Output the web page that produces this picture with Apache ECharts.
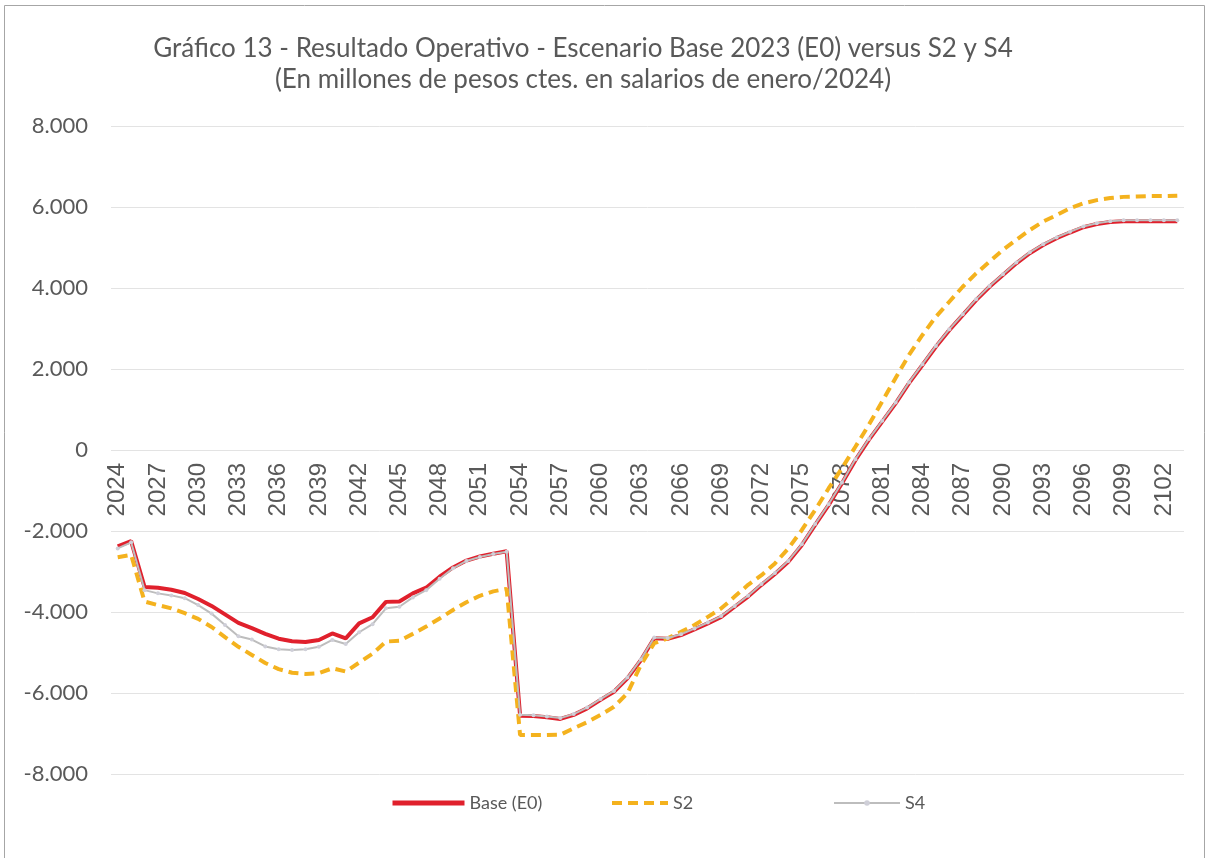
<!DOCTYPE html>
<html>
<head>
<meta charset="utf-8">
<script src="https://cdn.jsdelivr.net/npm/echarts@6/dist/echarts.min.js"></script>
<style>
  html, body { margin: 0; padding: 0; background: #fff; }
  #chart { width: 1210px; height: 858px; }
</style>
</head>
<body>
<div id="chart"></div>
<script>
// años 2024..2103
const years = [];
for (let y = 2024; y <= 2103; y++) years.push(String(y));

const yTicks = [-8000, -6000, -4000, -2000, 0, 2000, 4000, 6000, 8000];

const base = [
  -2380, -2250, -3380, -3400, -3450, -3530, -3680, -3850, -4060, -4270,
  -4400, -4540, -4660, -4720, -4740, -4690, -4530, -4650, -4280, -4130,
  -3750, -3740, -3540, -3400, -3130, -2900, -2730, -2630, -2560, -2500,
  -6560, -6570, -6600, -6640, -6540, -6380, -6170, -5970, -5640, -5190,
  -4650, -4660, -4570, -4430, -4280, -4120, -3870, -3620, -3330, -3060,
  -2760, -2350, -1850, -1360, -820, -250, 250, 700, 1150, 1650,
  2100, 2550, 2960, 3330, 3700, 4030, 4320, 4610, 4860, 5060,
  5230, 5370, 5500, 5580, 5630, 5650, 5650, 5650, 5650, 5650
];

const s2 = [
  -2650, -2590, -3740, -3830, -3910, -4030, -4170, -4370, -4620, -4860,
  -5060, -5260, -5410, -5500, -5530, -5510, -5390, -5470, -5250, -5030,
  -4730, -4710, -4540, -4360, -4160, -3950, -3760, -3600, -3490, -3430,
  -7040, -7040, -7040, -7030, -6870, -6720, -6540, -6340, -6010, -5310,
  -4770, -4650, -4490, -4320, -4120, -3910, -3620, -3330, -3090, -2800,
  -2430, -1980, -1480, -950, -450, 80, 620, 1200, 1780, 2350,
  2840, 3290, 3660, 4030, 4360, 4650, 4940, 5190, 5430, 5640,
  5800, 5970, 6090, 6170, 6220, 6250, 6260, 6270, 6270, 6280
];

const s4 = [
  -2430, -2280, -3460, -3540, -3590, -3660, -3830, -4040, -4320, -4600,
  -4680, -4850, -4920, -4940, -4920, -4860, -4690, -4790, -4500, -4300,
  -3910, -3870, -3640, -3460, -3180, -2920, -2740, -2640, -2570, -2510,
  -6540, -6550, -6580, -6620, -6520, -6360, -6150, -5950, -5620, -5170,
  -4630, -4640, -4550, -4410, -4260, -4100, -3850, -3600, -3310, -3040,
  -2740, -2330, -1830, -1340, -800, -230, 270, 720, 1170, 1670,
  2120, 2570, 2980, 3350, 3720, 4050, 4340, 4630, 4880, 5080,
  5250, 5390, 5520, 5600, 5650, 5670, 5670, 5670, 5670, 5670
];

const txt = '#595959';
const fmt = v => {
  const s = Math.abs(v).toString().replace(/\B(?=(\d{3})+(?!\d))/g, '.');
  return (v < 0 ? '-' : '') + s;
};

const gridTop = 126, gridBottom = 84, chartH = 858;
// desplazar el eje X hasta la línea del cero
const zeroOffset = -((chartH - gridBottom - gridTop) / 2);

const chart = echarts.init(document.getElementById('chart'));
const legendText = { color: txt, fontSize: 18, fontFamily: 'Lato' };
chart.setOption({
  animation: false,
  backgroundColor: '#fff',
  graphic: [{
    type: 'rect',
    shape: { x: 4.5, y: 5.5, width: 1200, height: 860 },
    style: { fill: 'none', stroke: '#a6a6a6', lineWidth: 1 }
  }],
  title: {
    text: 'Gráfico 13 - Resultado Operativo - Escenario Base 2023 (E0) versus S2 y S4\n(En millones de pesos ctes. en salarios de enero/2024)',
    left: 578,
    textAlign: 'center',
    top: 28,
    textStyle: { color: txt, fontSize: 26, fontWeight: 'normal', fontFamily: 'Lato', lineHeight: 31 }
  },
  legend: [
    { data: ['Base (E0)'], left: 385, top: 789, itemWidth: 72, itemHeight: 14, textStyle: legendText,
      itemStyle: { opacity: 0 }, lineStyle: { width: 5 } },
    { data: ['S2'], left: 605, top: 789, itemWidth: 56, itemHeight: 14, textStyle: legendText,
      itemStyle: { opacity: 0 }, lineStyle: { width: 4 } },
    { data: ['S4'], left: 828, top: 789, itemWidth: 66, itemHeight: 7, textStyle: legendText }
  ],
  grid: { left: 111, right: 26, top: gridTop, bottom: gridBottom, containLabel: false },
  xAxis: {
    type: 'category',
    data: years,
    boundaryGap: true,
    position: 'bottom',
    offset: zeroOffset,
    axisLine: { show: false, onZero: false },
    axisTick: { show: false },
    axisLabel: {
      interval: 2,
      rotate: 90,
      margin: 13,
      color: txt,
      fontSize: 24,
      fontFamily: 'Liberation Sans'
    }
  },
  yAxis: {
    type: 'value',
    min: yTicks[0],
    max: yTicks[yTicks.length - 1],
    interval: 2000,
    axisLine: { show: false },
    axisTick: { show: false },
    splitLine: { lineStyle: { color: '#e3e3e3', width: 1 } },
    axisLabel: {
      margin: 23,
      color: txt,
      fontSize: 22,
      fontFamily: 'Lato',
      formatter: fmt
    }
  },
  series: [
    {
      name: 'Base (E0)',
      type: 'line',
      data: base,
      symbol: 'none',
      lineStyle: { color: '#e0202c', width: 4 },
      itemStyle: { color: '#e0202c' },
      z: 2
    },
    {
      name: 'S2',
      type: 'line',
      data: s2,
      symbol: 'none',
      lineStyle: { color: '#f4b21e', width: 4, type: [10, 6] },
      itemStyle: { color: '#f4b21e' },
      z: 3
    },
    {
      name: 'S4',
      type: 'line',
      data: s4,
      symbol: 'circle',
      symbolSize: 4,
      lineStyle: { color: '#bdbdbd', width: 2 },
      itemStyle: { color: '#cfcfd8', borderWidth: 0 },
      z: 4
    }
  ]
});
</script>
</body>
</html>
